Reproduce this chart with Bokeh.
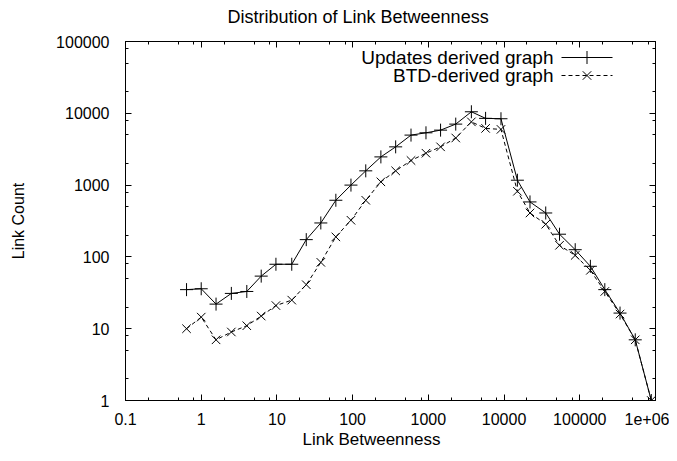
from bokeh.plotting import figure
from bokeh.models import FixedTicker, LogAxis, Range1d, LinearScale, Title
from bokeh.embed import file_html
from bokeh.resources import INLINE
from bokeh.core.properties import value

# ---------------- data ----------------
betweenness = [0.64, 1.0, 1.57, 2.5, 4.0, 6.2, 9.7, 15.7, 24.4, 38, 60, 95, 149, 236, 370,
               590, 930, 1450, 2300, 3700, 5700, 9100, 15000, 22000, 35500, 54000,
               87000, 138000, 214000, 340000, 540000, 880000]
updates_counts = [35, 36, 22, 31, 33, 54, 79, 79, 174, 297, 615, 1000, 1580, 2470, 3410,
                  4970, 5350, 5830, 7070, 10500, 8500, 8400, 1170, 583, 409, 207,
                  126, 74, 35, 16.5, 7, 1]
btd_counts = [10, 14.5, 7, 9, 11, 15, 21, 25, 41, 84, 190, 324, 615, 1110, 1580,
              2200, 2780, 3410, 4530, 7600, 6160, 5970, 820, 409, 285, 145,
              105, 65, 33, 16, 7, 1]

x_tick_values = [0.1, 1, 10, 100, 1000, 10000, 100000, 1000000]
x_tick_labels = ["0.1", "1", "10", "100", "1000", "10000", "100000", "1e+06"]
y_tick_values = [1, 10, 100, 1000, 10000, 100000]
y_tick_labels = ["1", "10", "100", "1000", "10000", "100000"]

legend_labels = ["Updates derived graph", "BTD-derived graph"]
title_text = "Distribution of Link Betweenness"
x_title = "Link Betweenness"
y_title = "Link Count"

# ---------------- layout / style ----------------
FONT = "Liberation Sans"
FS_TICK = "16px"
FS_XT = "17px"
FS_YT = "16px"
FS_KEY = "19px"
FS_TITLE = "18px"
W, H = 669, 453
BL, BR, BT, BB = 125, 14, 41, 53
FW, FH = W - BL - BR, H - BT - BB

def minor_for(majors):
    out = []
    for m in majors[:-1]:
        out += [m * 2, m * 5, m * 8]
    return out

p = figure(width=W, height=H, x_axis_type="log", y_axis_type="log",
           x_range=(0.1, 1e6), y_range=(1, 1e5),
           output_backend="svg", toolbar_location=None,
           min_border_left=BL, min_border_right=BR,
           min_border_top=BT, min_border_bottom=BB)
p.grid.visible = False
p.outline_line_color = "black"
p.outline_line_width = 1
p.background_fill_color = "white"
p.border_fill_color = "white"

def style_axis(ax, ticks, labels, show):
    ax.ticker = FixedTicker(ticks=ticks, minor_ticks=minor_for(ticks))
    ax.axis_line_color = "black"
    ax.major_tick_line_color = "black"
    ax.minor_tick_line_color = "black"
    ax.major_tick_in = 6
    ax.major_tick_out = 0
    ax.minor_tick_in = 3
    ax.minor_tick_out = 0
    ax.major_label_text_font = FONT
    ax.major_label_text_font_size = FS_TICK
    ax.major_label_text_color = "black"
    ax.axis_label_text_font = FONT
    ax.axis_label_text_font_style = "normal"
    ax.axis_label_text_color = "black"
    if show:
        ax.major_label_overrides = dict(zip(ticks, labels))
    else:
        ax.major_label_overrides = {t: "" for t in ticks}
        ax.major_label_standoff = 0

xa = p.xaxis[0]
ya = p.yaxis[0]
style_axis(xa, x_tick_values, x_tick_labels, True)
style_axis(ya, y_tick_values, y_tick_labels, True)
ya.axis_label = y_title
ya.axis_label_text_font_size = FS_YT
xa.major_label_standoff = 12
ya.major_label_standoff = 16
ya.axis_label_standoff = 26

# mirrored tick axes (index 0 of above/right sits next to the frame)
top = LogAxis()
style_axis(top, x_tick_values, x_tick_labels, False)
p.add_layout(top, "above")
right = LogAxis()
style_axis(right, y_tick_values, y_tick_labels, False)
p.add_layout(right, "right")

# spacer between the top axis and the chart title
p.add_layout(Title(text=" ", text_font_size="1px", standoff=12), "above")
p.add_layout(Title(text=title_text, align="left", offset=102, standoff=0,
                   text_font=FONT, text_font_size=FS_TITLE,
                   text_font_style="normal", text_color="black"), "above")
p.add_layout(Title(text=x_title, align="left", offset=177, standoff=0,
                   text_font=FONT, text_font_size=FS_XT,
                   text_font_style="normal", text_color="black"), "below")

# ---------------- series ----------------
p.line(betweenness, updates_counts, line_color="black", line_width=1)
p.scatter(betweenness, updates_counts, marker="cross", size=13,
          line_color="black", line_width=1)
p.line(betweenness, btd_counts, line_color="black", line_width=1, line_dash="4 3")
p.scatter(betweenness, btd_counts, marker="x", size=12,
          line_color="black", line_width=1)

# ---------------- gnuplot-style key (frame pixel coordinates) ----------------
p.extra_x_ranges = {"kx": Range1d(0, FW)}
p.extra_y_ranges = {"ky": Range1d(0, FH)}
p.extra_x_scales = {"kx": LinearScale()}
p.extra_y_scales = {"ky": LinearScale()}

key_text_x = 428
key_line_x0, key_line_x1 = 436, 487
key_rows_y = [FH - 16, FH - 34]

p.text(x=[key_text_x] * 2, y=key_rows_y, text=legend_labels,
       x_range_name="kx", y_range_name="ky",
       text_align="right", text_baseline="middle",
       text_font=value(FONT), text_font_size=FS_KEY, text_color="black")
p.line(x=[key_line_x0, key_line_x1], y=[key_rows_y[0]] * 2,
       x_range_name="kx", y_range_name="ky", line_color="black", line_width=1)
p.line(x=[key_line_x0, key_line_x1], y=[key_rows_y[1]] * 2,
       x_range_name="kx", y_range_name="ky", line_color="black", line_width=1,
       line_dash="4 3")
mid = (key_line_x0 + key_line_x1) / 2
p.scatter(x=[mid], y=[key_rows_y[0]], marker="cross", size=13,
          x_range_name="kx", y_range_name="ky", line_color="black", line_width=1)
p.scatter(x=[mid], y=[key_rows_y[1]], marker="x", size=12,
          x_range_name="kx", y_range_name="ky", line_color="black", line_width=1)

open("out.html", "w").write(file_html(p, INLINE))
